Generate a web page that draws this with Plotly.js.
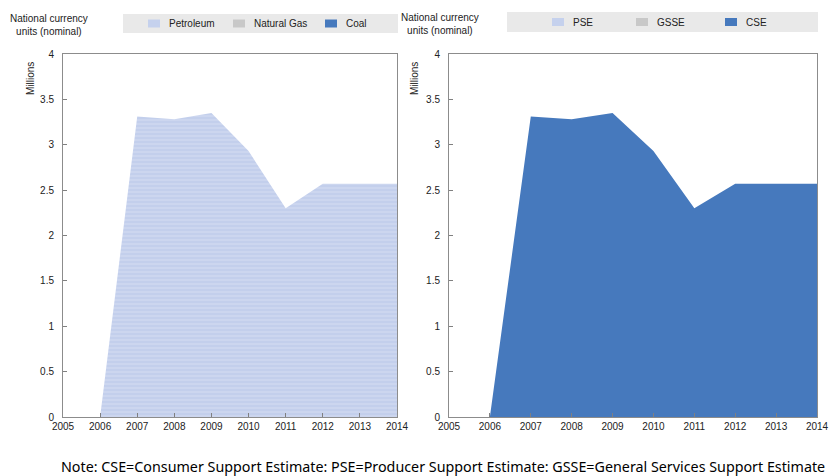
<!DOCTYPE html>
<html>
<head>
<meta charset="utf-8">
<script src="https://cdn.plot.ly/plotly-3.0.1.min.js"></script>
<style>html,body{margin:0;padding:0;background:#fff;}#chart{width:829px;height:476px;}</style>
</head>
<body>
<div id="chart"></div>
<script>
// ---- data ----
const years = [2005, 2006, 2007, 2008, 2009, 2010, 2011, 2012, 2013, 2014];
const petroleum = [0, 0, 3.31, 3.28, 3.35, 2.93, 2.30, 2.57, 2.57, 2.57];
const naturalGas = [0, 0, 0, 0, 0, 0, 0, 0, 0, 0];
const coal = [0, 0, 0, 0, 0, 0, 0, 0, 0, 0];
const pse = [0, 0, 0, 0, 0, 0, 0, 0, 0, 0];
const gsse = [0, 0, 0, 0, 0, 0, 0, 0, 0, 0];
const cse = [0, 0, 3.31, 3.28, 3.35, 2.93, 2.30, 2.57, 2.57, 2.57];
const leftNames = ["Petroleum", "Natural Gas", "Coal"];
const rightNames = ["PSE", "GSSE", "CSE"];
const yTicks = [0, 0.5, 1, 1.5, 2, 2.5, 3, 3.5, 4];
const yTickText = ["0", "0.5", "1", "1.5", "2", "2.5", "3", "3.5", "4"];
const unitLabel = "National currency<br>units (nominal)";
const scaleLabel = "Millions";
const note = "Note: CSE=Consumer Support Estimate: PSE=Producer Support Estimate: GSSE=General Services Support Estimate";

// ---- styles ----
const W = 829, H = 476;
const px = v => v / W;
const py = v => 1 - v / H;
const NARROW = "Liberation Sans, Arial, sans-serif";
const FS = 10;
const colors = ["#c5d1ed", "#c8c8c8", "#4679bd"];

function areaTrace(y, name, idx, xa, ya, grp) {
  const t = {
    x: years, y: y, name: name, type: "scatter", mode: "lines",
    stackgroup: grp, xaxis: xa, yaxis: ya,
    line: {width: 0, color: colors[idx]},
    fillcolor: colors[idx], showlegend: false, hoverinfo: "x+y+name"
  };
  if (idx === 0) {
    t.fillpattern = {shape: "-", fgcolor: "#d3dcf2", bgcolor: "#c3cfec", size: 4, solidity: 0.3};
  }
  return t;
}

const data = [
  areaTrace(petroleum, leftNames[0], 0, "x", "y", "L"),
  areaTrace(naturalGas, leftNames[1], 1, "x", "y", "L"),
  areaTrace(coal, leftNames[2], 2, "x", "y", "L"),
  areaTrace(pse, rightNames[0], 0, "x2", "y2", "R"),
  areaTrace(gsse, rightNames[1], 1, "x2", "y2", "R"),
  areaTrace(cse, rightNames[2], 2, "x2", "y2", "R")
];

function xAxis(dom, anchor) {
  return {
    domain: dom, anchor: anchor, range: [2005, 2014], tickmode: "array", tickvals: years,
    ticks: "inside", ticklen: 4, tickcolor: "#808080", showgrid: false, zeroline: false,
    showline: true, linecolor: "#8c8c8c", linewidth: 1, mirror: true, ticklabeloverflow: "allow",
    tickfont: {family: NARROW, size: FS, color: "#222"}, fixedrange: true
  };
}
function yAxis(dom, anchor) {
  return {
    domain: dom, anchor: anchor, range: [0, 4], tickmode: "array", tickvals: yTicks, ticktext: yTickText,
    ticks: "inside", ticklen: 4, tickcolor: "#808080", showgrid: false, zeroline: false,
    showline: true, linecolor: "#8c8c8c", linewidth: 1, mirror: true, ticklabelstandoff: 6,
    tickfont: {family: NARROW, size: FS, color: "#222"}, fixedrange: true
  };
}

const yDom = [59 / H, 422 / H];
const shapes = [];
const annotations = [];

// legend boxes
function legendBox(x0, x1, y0, y1, names, swatchX) {
  shapes.push({type: "rect", xref: "paper", yref: "paper", x0: px(x0), x1: px(x1), y0: py(y1), y1: py(y0),
    fillcolor: "#e9e9e9", line: {width: 0}, layer: "below"});
  names.forEach((n, i) => {
    const sx = swatchX[i];
    shapes.push({type: "rect", xref: "paper", yref: "paper", x0: px(sx), x1: px(sx + 12),
      y0: py((y0 + y1) / 2 + 4), y1: py((y0 + y1) / 2 - 4), fillcolor: colors[i], line: {width: 0}});
    annotations.push({xref: "paper", yref: "paper", x: px(sx + 19), y: py((y0 + y1) / 2), text: n,
      showarrow: false, xanchor: "left", yanchor: "middle", font: {family: NARROW, size: FS, color: "#222"}});
  });
}
legendBox(123, 398, 14, 33, leftNames, [148, 233, 325]);
legendBox(507, 818, 12, 32, rightNames, [552, 636, 725]);

// unit labels
[[49, 11], [440, 10]].forEach(([cx, ty]) => {
  annotations.push({xref: "paper", yref: "paper", x: px(cx), y: py(ty), text: unitLabel, showarrow: false,
    xanchor: "center", yanchor: "top", align: "center", font: {family: NARROW, size: FS, color: "#222"}});
});
[[31, 79], [415, 79]].forEach(([cx, cy]) => {
  annotations.push({xref: "paper", yref: "paper", x: px(cx), y: py(cy), text: scaleLabel, showarrow: false,
    textangle: -90, xanchor: "center", yanchor: "middle", font: {family: NARROW, size: FS, color: "#222"}});
});
annotations.push({xref: "paper", yref: "paper", x: px(442.5), y: py(466), text: note, showarrow: false,
  xanchor: "center", yanchor: "middle", font: {family: "Noto Sans, Open Sans, sans-serif", size: 14.3, color: "#000"}});

const layout = {
  width: W, height: H, margin: {l: 0, r: 0, t: 0, b: 0},
  paper_bgcolor: "#fff", plot_bgcolor: "#fff", showlegend: false,
  xaxis: xAxis([63 / W, 397 / W], "y"),
  yaxis: yAxis(yDom, "x"),
  xaxis2: xAxis([449 / W, 817 / W], "y2"),
  yaxis2: yAxis(yDom, "x2"),
  shapes: shapes, annotations: annotations
};

Plotly.newPlot("chart", data, layout, {displayModeBar: false, staticPlot: true});
</script>
</body>
</html>
